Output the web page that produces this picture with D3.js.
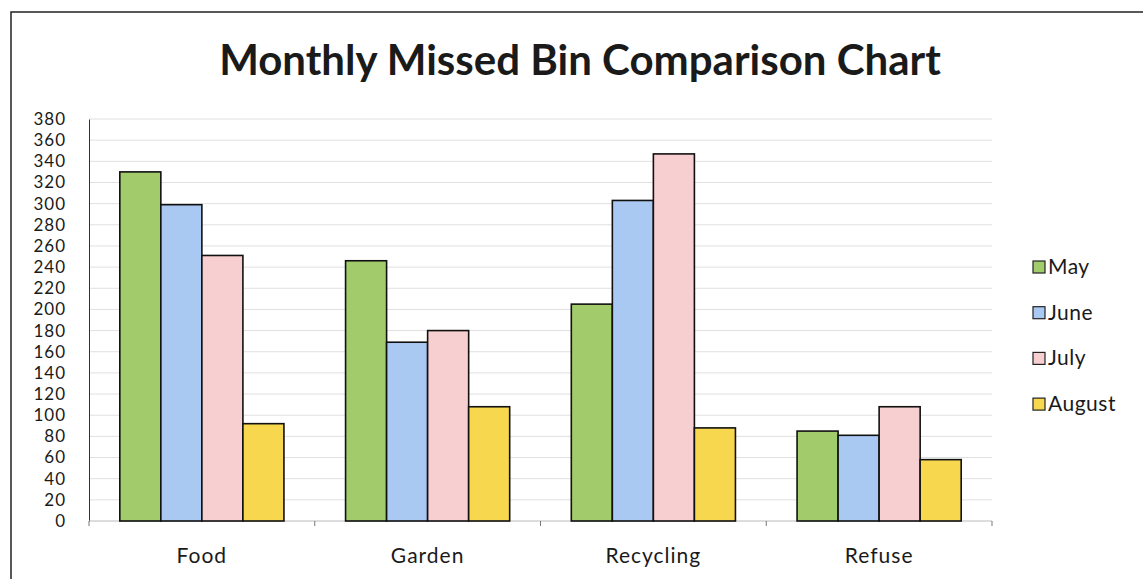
<!DOCTYPE html>
<html>
<head>
<meta charset="utf-8">
<script src="https://cdn.jsdelivr.net/npm/d3@7"></script>
<style>
  body { margin: 0; background: #fff; }
  svg { display: block; font-family: Lato, "Open Sans", sans-serif; }
</style>
</head>
<body>
<div id="chart"></div>
<script>
// Data
const categories = ["Food", "Garden", "Recycling", "Refuse"];
const months = ["May", "June", "July", "August"];
const may = [330, 246, 205, 85];
const june = [299, 169, 303, 81];
const july = [251, 180, 347, 108];
const august = [92, 108, 88, 58];
const yTicks = d3.range(0, 381, 20);

const seriesValues = [may, june, july, august];
const colors = ["#a2cb6c", "#a9c8f2", "#f8cfd0", "#f7d74e"];

const width = 1143;
const height = 579;
const plot = { left: 89, right: 992, top: 119, bottom: 521 };

const svg = d3.select("#chart")
    .append("svg")
    .attr("width", width)
    .attr("height", height);

// outer frame (only top and left survive in the scan)
svg.append("path")
    .attr("d", `M11,${height} L11,12 L${width},12`)
    .attr("fill", "none")
    .attr("stroke", "#222")
    .attr("stroke-width", 1.5);

// Title
svg.append("text")
    .attr("x", 580)
    .attr("y", 75)
    .attr("text-anchor", "middle")
    .style("font-size", "42px")
    .style("font-weight", "bold")
    .attr("fill", "#1a1a1a")
    .text("Monthly Missed Bin Comparison Chart");

// Scales
const x0 = d3.scaleBand()
    .domain(categories)
    .range([plot.left, plot.right])
    .paddingInner(0.273)
    .paddingOuter(0.1365);

const x1 = d3.scaleBand()
    .domain(months)
    .range([0, x0.bandwidth()]);

const y = d3.scaleLinear()
    .domain([0, 380])
    .range([plot.bottom, plot.top]);

// Gridlines
svg.append("g")
    .selectAll("line")
    .data(yTicks.filter(d => d > 0))
    .join("line")
    .attr("x1", plot.left)
    .attr("x2", plot.right)
    .attr("y1", d => y(d))
    .attr("y2", d => y(d))
    .attr("stroke", "#e0e0e0")
    .attr("stroke-width", 1);

// Y axis
const yAxis = svg.append("g")
    .attr("transform", `translate(${plot.left},0)`)
    .call(d3.axisLeft(y).tickValues(yTicks).tickSize(0).tickPadding(23));
yAxis.select(".domain").attr("stroke", "#333");
yAxis.selectAll("text")
    .style("font-size", "17px")
    .style("letter-spacing", "1px")
    .style("font-family", "Lato, sans-serif")
    .attr("fill", "#1a1a1a");

// X axis
const step = x0.step();
const xAxis = svg.append("g")
    .attr("transform", `translate(0,${plot.bottom})`);
xAxis.append("line")
    .attr("x1", plot.left).attr("x2", plot.right)
    .attr("stroke", "#bbb");
xAxis.selectAll(".tick")
    .data(d3.range(categories.length + 1))
    .join("line")
    .attr("x1", i => plot.left + i * step)
    .attr("x2", i => plot.left + i * step)
    .attr("y1", 0).attr("y2", 5)
    .attr("stroke", "#777");
xAxis.selectAll("text")
    .data(categories)
    .join("text")
    .attr("x", d => x0(d) + x0.bandwidth() / 2)
    .attr("y", 42)
    .attr("text-anchor", "middle")
    .style("font-size", "21px")
    .style("letter-spacing", "1px")
    .attr("fill", "#1a1a1a")
    .text(d => d);

// Bars
const groups = svg.append("g")
    .selectAll("g")
    .data(categories)
    .join("g")
    .attr("transform", d => `translate(${x0(d)},0)`);

groups.selectAll("rect")
    .data((c, ci) => months.map((m, mi) => ({ month: m, value: seriesValues[mi][ci], mi })))
    .join("rect")
    .attr("x", d => x1(d.month))
    .attr("width", x1.bandwidth())
    .attr("y", d => y(d.value))
    .attr("height", d => y(0) - y(d.value))
    .attr("fill", d => colors[d.mi])
    .attr("stroke", "#111")
    .attr("stroke-width", 1.6);

// Legend
const legend = svg.append("g")
    .selectAll("g")
    .data(months)
    .join("g")
    .attr("transform", (d, i) => `translate(1033,${267 + i * 45.7})`);
legend.append("rect")
    .attr("x", 0).attr("y", -6)
    .attr("width", 12).attr("height", 12)
    .attr("fill", (d, i) => colors[i])
    .attr("stroke", "#222")
    .attr("stroke-width", 1.2);
legend.append("text")
    .attr("x", 15)
    .attr("y", 7)
    .style("font-size", "21px")
    .style("letter-spacing", "0.5px")
    .attr("fill", "#1a1a1a")
    .text(d => d);
</script>
</body>
</html>
